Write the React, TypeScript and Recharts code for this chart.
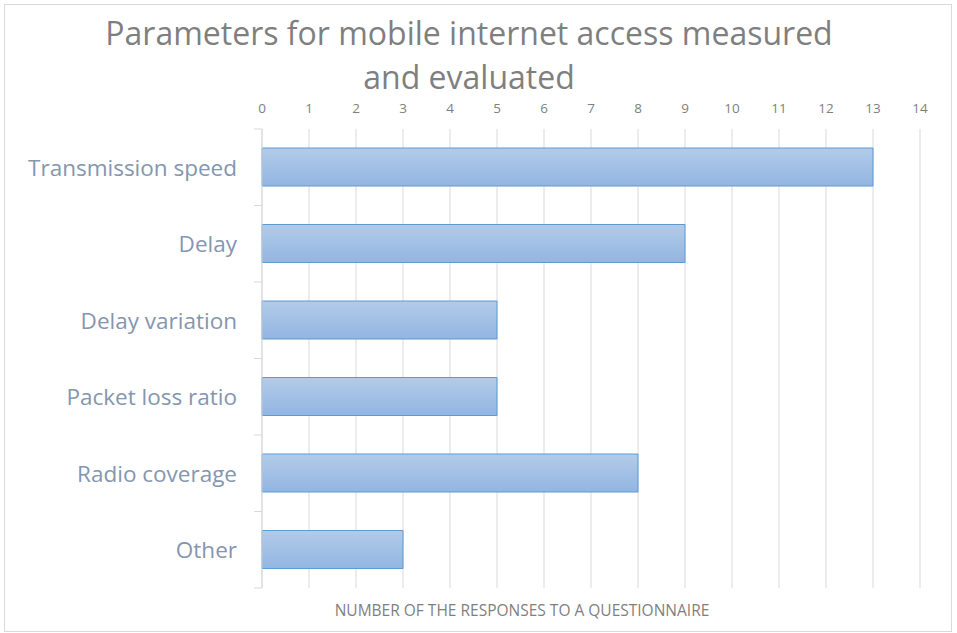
import React from "react";
import { BarChart, Bar, XAxis, YAxis, CartesianGrid } from "recharts";

const categories = [
  "Transmission speed",
  "Delay",
  "Delay variation",
  "Packet loss ratio",
  "Radio coverage",
  "Other",
];
const responses = [13, 9, 5, 5, 8, 3];
const xTicks = [0, 1, 2, 3, 4, 5, 6, 7, 8, 9, 10, 11, 12, 13, 14];

const data = categories.map((name, i) => ({ name, value: responses[i] }));

const FONT = "'Open Sans', sans-serif";
const PLOT_TOP = 129;
const PLOT_BOTTOM = 588;
const BAND = (PLOT_BOTTOM - PLOT_TOP) / categories.length;

// category label plus the boundary tick marks excel draws between bands
function CategoryTick(props: any) {
  const { x, y, payload, index } = props;
  const last = index === categories.length - 1;
  return (
    <g>
      <line x1={262 - 8} x2={262} y1={y - BAND / 2} y2={y - BAND / 2} stroke="#d9d9d9" />
      {last && (
        <line x1={262 - 8} x2={262} y1={y + BAND / 2} y2={y + BAND / 2} stroke="#d9d9d9" />
      )}
      <text
        x={x}
        y={y}
        textAnchor="end"
        dominantBaseline="central"
        fill="#8496b0"
        fontSize={22.5}
        fontFamily={FONT}
      >
        {payload.value}
      </text>
    </g>
  );
}

export default function App() {
  return (
    <div style={{ position: "relative", width: 957, height: 633, background: "#fff" }}>
      <style>{`body{margin:0}`}</style>
      <div
        style={{
          position: "absolute",
          left: 4,
          top: 4,
          width: 946,
          height: 626,
          border: "1px solid #d9d9d9",
        }}
      />
      <div
        style={{
          position: "absolute",
          left: 0,
          width: 938,
          top: 11,
          textAlign: "center",
          fontFamily: FONT,
          fontSize: 32,
          lineHeight: "44px",
          color: "#7f7f7f",
        }}
      >
        Parameters for mobile internet access measured
        <br />
        and evaluated
      </div>
      <BarChart
        width={957}
        height={633}
        data={data}
        layout="vertical"
        margin={{ top: PLOT_TOP - 30, right: 37, bottom: 633 - PLOT_BOTTOM, left: 0 }}
        style={{ position: "absolute", left: 0, top: 0 }}
      >
        <defs>
          <linearGradient id="barFill" x1="0" y1="0" x2="0" y2="1">
            <stop offset="0%" stopColor="#b3cbe9" />
            <stop offset="100%" stopColor="#92b5e2" />
          </linearGradient>
        </defs>
        <CartesianGrid horizontal={false} stroke="#d9d9d9" />
        <XAxis
          type="number"
          orientation="top"
          domain={[0, 14]}
          ticks={xTicks}
          interval={0}
          height={30}
          axisLine={false}
          tickLine={false}
          tickSize={0}
          tickMargin={16}
          tick={{ fill: "#7f7f7f", fontSize: 13.5, fontFamily: FONT }}
        />
        <YAxis
          type="category"
          dataKey="name"
          width={262}
          axisLine={{ stroke: "#d9d9d9" }}
          tickLine={false}
          tickSize={8}
          tickMargin={17}
          tick={<CategoryTick />}
        />
        <Bar
          dataKey="value"
          barSize={38}
          fill="url(#barFill)"
          stroke="#5b9bd5"
          strokeWidth={1}
          isAnimationActive={false}
        />
      </BarChart>
      <div
        style={{
          position: "absolute",
          left: 0,
          width: 1044,
          top: 599,
          textAlign: "center",
          fontFamily: FONT,
          fontSize: 15.5,
          color: "#7f7f7f",
        }}
      >
        NUMBER OF THE RESPONSES TO A QUESTIONNAIRE
      </div>
    </div>
  );
}
